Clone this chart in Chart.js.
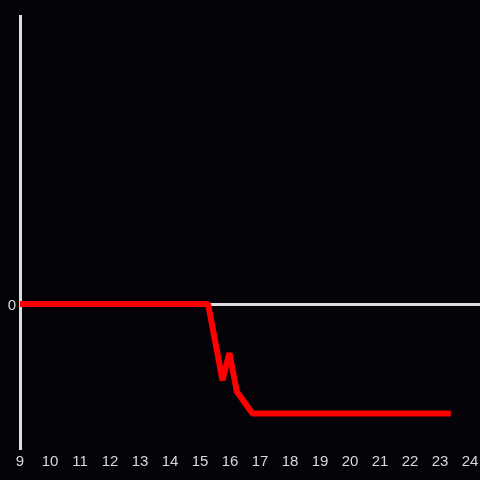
<!DOCTYPE html>
<html>
<head>
<meta charset="utf-8">
<script src="https://cdn.jsdelivr.net/npm/chart.js@4/dist/chart.umd.min.js"></script>
<style>
  html, body { margin: 0; padding: 0; background: #050308; }
  #wrap { width: 480px; height: 480px; }
</style>
</head>
<body>
<div id="wrap"><canvas id="c" width="480" height="480"></canvas></div>
<script>
// hours of the day and the value at each time
const hours = [9, 15.27, 15.75, 15.98, 16.23, 16.75, 23.36];
const values = [0, 0, -53, -34, -61, -76, -76];
const xTicks = [9, 10, 11, 12, 13, 14, 15, 16, 17, 18, 19, 20, 21, 22, 23, 24];
const yTicks = [0];

const points = hours.map((h, i) => ({ x: h, y: values[i] }));

new Chart(document.getElementById('c'), {
  type: 'line',
  data: {
    datasets: [{
      data: points,
      borderColor: '#ff0000',
      borderWidth: 6,
      pointRadius: 0,
      tension: 0,
      borderCapStyle: 'butt',
      borderJoinStyle: 'bevel',
      fill: false
    }]
  },
  options: {
    responsive: false,
    animation: false,
    layout: { padding: { top: 16, right: 0, left: 0, bottom: 0 } },
    plugins: { legend: { display: false }, tooltip: { enabled: false } },
    scales: {
      x: {
        type: 'linear',
        min: 9,
        max: 24.333,
        afterBuildTicks: s => { s.ticks = xTicks.map(v => ({ value: v })); },
        afterFit: s => { s.height = 32; s.paddingRight = 0; s.paddingLeft = 0; },
        border: { display: false },
        grid: { display: false, drawTicks: false },
        ticks: { color: '#d8d8d8', padding: 5, maxRotation: 0, autoSkip: false,
                 font: { family: 'Liberation Sans', size: 15 } }
      },
      y: {
        min: -100,
        max: 200,
        afterBuildTicks: s => { s.ticks = yTicks.map(v => ({ value: v })); },
        afterFit: s => { s.width = 20; s.paddingTop = 0; s.paddingBottom = 0; },
        border: { display: true, color: '#dddddd', width: 3 },
        grid: { color: '#dddddd', lineWidth: 3, drawTicks: false },
        ticks: { color: '#d8d8d8', padding: 4, labelOffset: 2,
                 font: { family: 'Liberation Sans', size: 15 } }
      }
    }
  }
});
</script>
</body>
</html>
